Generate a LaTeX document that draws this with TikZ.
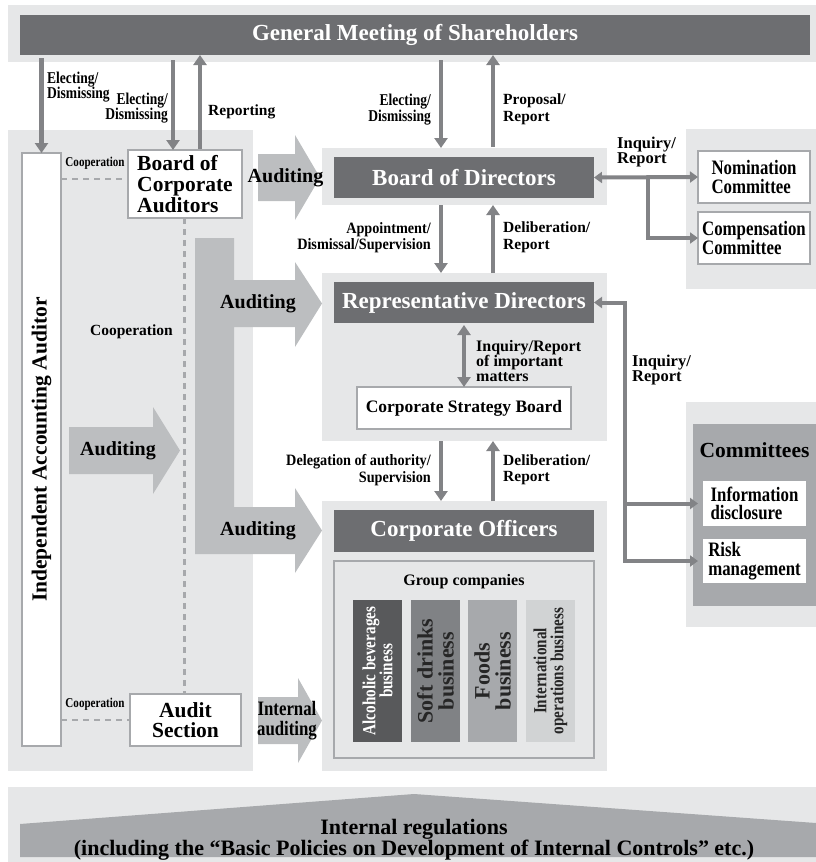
\documentclass[tikz,border=0pt]{standalone}
\usepackage{fontspec}
\setmainfont{Liberation Serif}
\newfontfamily\condf[FakeStretch=0.82]{Liberation Serif}
\newfontfamily\condg[FakeStretch=0.9]{Liberation Serif}
\usetikzlibrary{arrows.meta}
\definecolor{bgl}{HTML}{E6E7E8}
\definecolor{dk}{HTML}{6D6E71}
\definecolor{arr}{HTML}{828386}
\definecolor{blk}{HTML}{BCBEC0}
\definecolor{cmt}{HTML}{A7A9AC}
\definecolor{brd}{HTML}{A7A9AC}
\definecolor{bara}{HTML}{58595B}
\definecolor{barb}{HTML}{808285}
\definecolor{barc}{HTML}{A7A9AC}
\definecolor{bard}{HTML}{D1D3D4}
\tikzset{
  box/.style={inner sep=0pt, outer sep=0pt},
  bg/.style={box, fill=bgl},
  darkbox/.style={box, fill=dk, text=white, font=\bfseries\fontsize{23}{24}\selectfont},
  wbox/.style={box, fill=white, draw=brd, line width=2pt},
  conn/.style={draw=arr, line width=4.5pt, -{Triangle[width=13pt,length=10pt]}},
  conns/.style={draw=arr, line width=4pt, -{Triangle[width=11pt,length=8pt]}},
  connb/.style={draw=arr, line width=4pt, {Triangle[width=11pt,length=8pt]}-{Triangle[width=11pt,length=8pt]}},
  lbl/.style={inner sep=0pt, font=\bfseries\fontsize{15.5}{16.5}\selectfont},
  lblg/.style={inner sep=0pt, font=\condg\bfseries\fontsize{15.8}{16.5}\selectfont},
  lblc/.style={inner sep=0pt, font=\condf\bfseries\fontsize{16.5}{15.5}\selectfont},
  coop/.style={draw=brd, line width=2.5pt, dash pattern=on 6pt off 5pt},
  audtext/.style={inner sep=0pt, font=\bfseries\fontsize{20}{22}\selectfont},
  bigtext/.style={font=\bfseries\fontsize{21.5}{21.5}\selectfont},
  condtext/.style={font=\condf\bfseries\fontsize{20.5}{18.5}\selectfont},
  bartext/.style={box, rotate=90, minimum width=142pt, minimum height=49pt, align=center},
}
\begin{document}
\begin{tikzpicture}[x=1pt,y=-1pt]
\useasboundingbox (0,0) rectangle (816,862);
% backgrounds
\node[bg, minimum width=808pt, minimum height=57pt] (gmbg) at (412,33.5) {};
\node[bg, minimum width=245pt, minimum height=641pt] (leftbg) at (130.5,450.5) {};
\node[bg, minimum width=285pt, minimum height=57pt] (bodbg) at (464.5,176.5) {};
\node[bg, minimum width=285pt, minimum height=168pt] (repbg) at (464.5,357) {};
\node[bg, minimum width=285pt, minimum height=270pt] (cobg) at (464.5,636) {};
\node[bg, minimum width=130pt, minimum height=160pt] (rtbg) at (751,209) {};
\node[bg, minimum width=130pt, minimum height=225pt] (cmbg) at (751,514.5) {};
\node[bg, minimum width=808pt, minimum height=75pt] (botbg) at (412,824.5) {};

% general meeting
\node[darkbox, minimum width=790pt, minimum height=40pt] (gm) at (415,35) {General Meeting of Shareholders};

% block arrows
\fill[blk] (258,154) -- (295,154) -- (295,135) -- (320,177.5) -- (295,220) -- (295,201) -- (258,201) -- cycle;
\fill[blk] (195,238) -- (234,238) -- (234,280) -- (295,280) -- (295,262) -- (322,303.5) -- (295,347) -- (295,327)
  -- (234,327) -- (234,507) -- (295,507) -- (295,488) -- (322,530.5) -- (295,573) -- (295,554) -- (195,554) -- cycle;
\fill[blk] (69,427) -- (153,427) -- (153,407) -- (180,450.5) -- (153,494) -- (153,474) -- (69,474) -- cycle;
\fill[blk] (258,697) -- (298,697) -- (298,678) -- (322,720.5) -- (298,763) -- (298,744) -- (258,744) -- cycle;
\node[audtext] (aud1) at (285.5,177.5) {Auditing};
\node[audtext] (aud2) at (258,303.5) {Auditing};
\node[audtext] (aud3) at (258,530.5) {Auditing};
\node[audtext] (aud4) at (118,450.5) {Auditing};
\node[inner sep=0pt, align=center, font=\condf\bfseries\fontsize{20.5}{20}\selectfont] (intaud) at (287,720.5) {Internal\\auditing};

% left column boxes
\node[wbox, minimum width=39pt, minimum height=593pt] (iaa) at (41.5,449.5) {};
\node[rotate=90, inner sep=0pt, bigtext] (iaatext) at (iaa.center) {Independent Accounting Auditor};
\node[wbox, minimum width=114pt, minimum height=68pt, align=left, font=\bfseries\fontsize{21.5}{21}\selectfont] (bca) at (185,184) {Board of\\Corporate\\Auditors};
\node[wbox, minimum width=111pt, minimum height=52pt, align=center, font=\bfseries\fontsize{21.5}{20}\selectfont] (aud) at (185.5,720) {Audit\\Section};

% cooperation lines
\draw[coop] (iaa.east |- 0,179) -- (bca.west |- 0,179);
\draw[coop] (iaa.east |- aud.west) -- (aud.west);
\draw[coop] (bca.south -| 184.5,0) -- (aud.north -| 184.5,0);
\node[inner sep=0pt, font=\condf\bfseries\fontsize{13.5}{14}\selectfont] (coop1) at (95,163) {Cooperation};
\node[inner sep=0pt, font=\condf\bfseries\fontsize{13.5}{14}\selectfont] (coop2) at (95,704) {Cooperation};
\node[lbl] (coop3) at (131.5,332) {Cooperation};

% center column boxes
\node[darkbox, minimum width=260pt, minimum height=41pt] (bod) at (464,177.5) {Board of Directors};
\node[darkbox, minimum width=260pt, minimum height=41pt] (rep) at (464,302.5) {Representative Directors};
\node[wbox, minimum width=214pt, minimum height=42pt, font=\bfseries\fontsize{17.5}{18}\selectfont] (csb) at (464,408) {Corporate Strategy Board};
\node[darkbox, minimum width=260pt, minimum height=42pt] (co) at (464,531) {Corporate Officers};
\node[box, draw=brd, line width=2pt, fill=bgl, minimum width=260pt, minimum height=197pt] (grp) at (464,659.5) {};
\node[lbl, font=\bfseries\fontsize{16}{17}\selectfont] (grptext) at (464,582) {Group companies};
\node[bartext, fill=bara, text=white, font=\condf\bfseries\fontsize{18.5}{17}\selectfont] (bar1) at (377.5,671) {Alcoholic beverages\\business};
\node[bartext, fill=barb, text=black!85, font=\bfseries\fontsize{22}{21}\selectfont] (bar2) at (435.5,671) {Soft drinks\\business};
\node[bartext, fill=barc, text=black!85, font=\bfseries\fontsize{22}{21}\selectfont] (bar3) at (492.5,671) {Foods\\business};
\node[bartext, fill=bard, text=black!85, font=\condf\bfseries\fontsize{18.5}{17}\selectfont] (bar4) at (550.5,671) {International\\operations business};

% right boxes
\node[wbox, minimum width=112pt, minimum height=52pt, align=left, condtext] (nom) at (754,177) {Nomination\\Committee};
\node[wbox, minimum width=112pt, minimum height=52pt, align=left, condtext] (comp) at (754,238) {Compensation\\Committee};
\node[box, fill=cmt, minimum width=123pt, minimum height=182pt] (cm) at (754.5,515) {};
\node[inner sep=0pt, bigtext] (cmtext) at (754.5,450) {Committees};
\node[box, fill=white, minimum width=103pt, minimum height=45pt, align=left, condtext] (info) at (754.5,503.5) {Information\\disclosure};
\node[box, fill=white, minimum width=103pt, minimum height=44pt, align=left, condtext] (risk) at (754.5,561) {Risk\\management};

% vertical connectors from general meeting
\draw[conn, shorten <=3pt] (iaa.north |- gm.south) -- (iaa.north);
\draw[conn, shorten <=5pt] (173,0 |- gm.south) -- (173,0 |- bca.north);
\draw[conn, shorten <=1pt] (200,0 |- bca.north) -- (200,0 |- gm.south);
\draw[conn, shorten <=5pt] (441,0 |- gm.south) -- (441,0 |- bodbg.north);
\draw[conn, shorten <=1pt] (493,0 |- bodbg.north) -- (493,0 |- gm.south);
\draw[conn] (441,0 |- bodbg.south) -- (441,0 |- repbg.north);
\draw[conn] (493,0 |- repbg.north) -- (493,0 |- bodbg.south);
\draw[conn] (441,0 |- repbg.south) -- (441,0 |- cobg.north);
\draw[conn] (493,0 |- cobg.north) -- (493,0 |- repbg.south);
\draw[draw=arr, line width=4.5pt, {Triangle[width=13pt,length=10pt]}-{Triangle[width=13pt,length=10pt]}, shorten <=2pt] (rep.south) -- (csb.north);

% labels
\node[lblc, anchor=west, align=left] (l1) at (47,87) {Electing/\\Dismissing};
\node[lblc, anchor=east, align=right] (l2) at (168,108) {Electing/\\Dismissing};
\node[lbl, anchor=west] (l3) at (208,112) {Reporting};
\node[lblc, anchor=east, align=right] (l4) at (431,109.5) {Electing/\\Dismissing};
\node[lbl, anchor=west, align=left] (l5) at (503,109.5) {Proposal/\\Report};
\node[lblg, anchor=east, align=right] (l6) at (431,237.5) {Appointment/\\Dismissal/Supervision};
\node[lbl, anchor=west, align=left] (l7) at (503,237.5) {Deliberation/\\Report};
\node[lblg, anchor=east, align=right] (l8) at (431,470) {Delegation of authority/\\Supervision};
\node[lbl, anchor=west, align=left] (l9) at (503,470) {Deliberation/\\Report};
\node[lbl, anchor=west, align=left, font=\bfseries\fontsize{16}{15}\selectfont] (l10) at (476,361) {Inquiry/Report\\of important\\matters};
\node[lbl, anchor=west, align=left, font=\bfseries\fontsize{16.5}{15}\selectfont] (l11) at (617,152) {Inquiry/\\Report};
\node[lbl, anchor=west, align=left, font=\bfseries\fontsize{16.5}{15}\selectfont] (l12) at (632,370) {Inquiry/\\Report};

% inquiry connectors to committees
\draw[connb] (bod.east) -- (nom.west);
\draw[conns] (648,0 |- bod.east) |- (comp.west);
\draw[connb] (rep.east) -- (625,0 |- rep.east) -- (625,0 |- risk.west) -- ([xshift=-5pt]risk.west);
\draw[conns] (625,0 |- info.west) -- ([xshift=-5pt]info.west);

% internal regulations
\fill[cmt] (20,824) -- (414,794) -- (816,823) -- (816,857) -- (20,857) -- cycle;
\node[inner sep=0pt, align=center, font=\bfseries\fontsize{22}{17.5}\selectfont] (reg) at (414,840) {Internal regulations\\(including the “Basic Policies on Development of Internal Controls” etc.)};
\end{tikzpicture}
\end{document}
